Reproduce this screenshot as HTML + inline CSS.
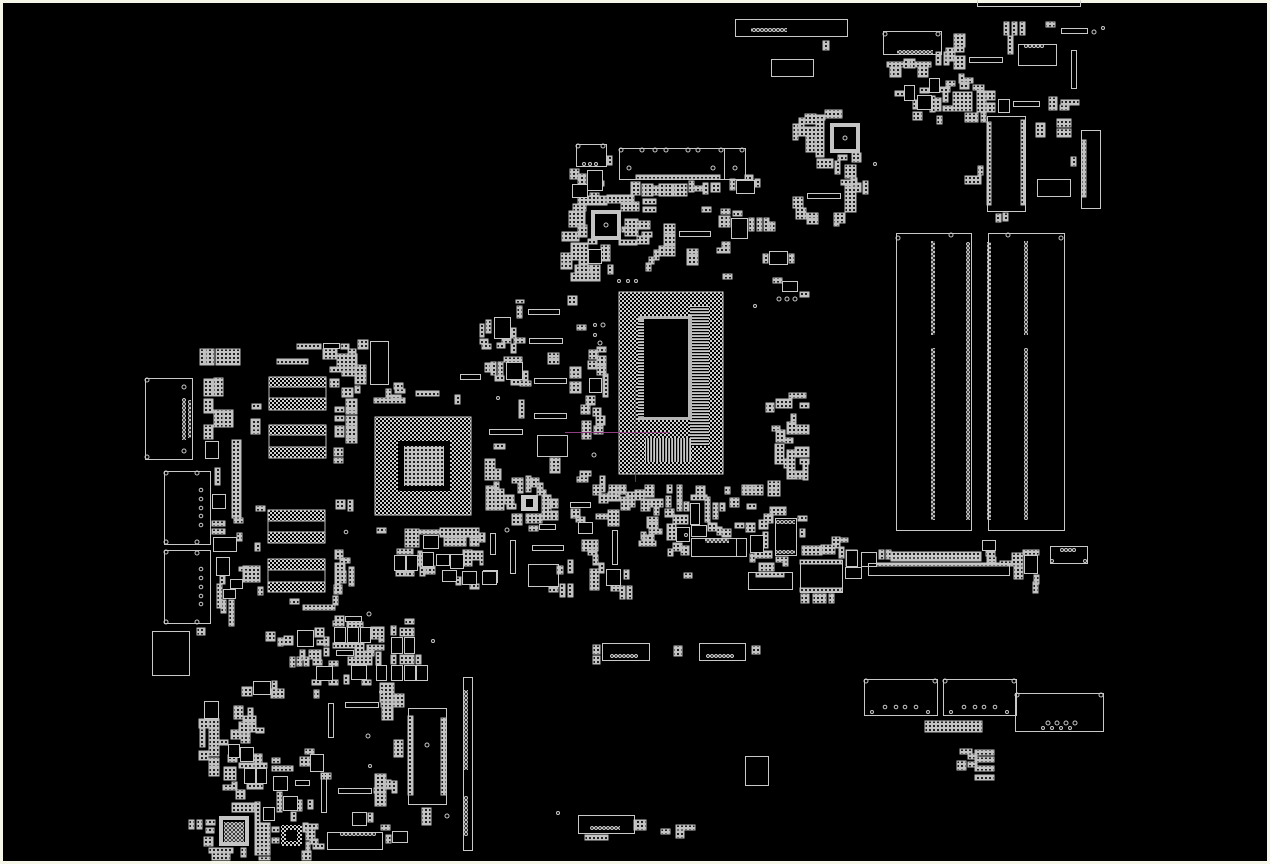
<!DOCTYPE html>
<html><head><meta charset="utf-8"><title>Boardview</title>
<style>html,body{margin:0;padding:0;background:#000}svg{display:block}</style></head>
<body>
<svg xmlns="http://www.w3.org/2000/svg" width="1270" height="864" viewBox="0 0 1270 864">
<defs>
<pattern id="c" width="4" height="4" patternUnits="userSpaceOnUse"><rect width="4" height="4" fill="#c2c2c2"/><rect x="1" y="1" width="2" height="2" fill="#222"/></pattern>
<pattern id="b" width="4" height="4" patternUnits="userSpaceOnUse"><rect width="4" height="4" fill="#d0d0d0"/><rect x="0" y="0" width="2" height="2" fill="#000"/><rect x="2" y="2" width="2" height="2" fill="#000"/></pattern>
<pattern id="h" width="3" height="3" patternUnits="userSpaceOnUse"><rect width="3" height="3" fill="#c8c8c8"/><rect y="1" width="3" height="1.2" fill="#000"/></pattern>
<pattern id="v" width="3" height="3" patternUnits="userSpaceOnUse"><rect width="3" height="3" fill="#c8c8c8"/><rect x="1" width="1.2" height="3" fill="#000"/></pattern>
<pattern id="r" width="4" height="4" patternUnits="userSpaceOnUse"><circle cx="2" cy="2" r="1.5" fill="none" stroke="#ccc" stroke-width="1"/></pattern>
</defs>
<rect width="1270" height="864" fill="#f6f6e8"/>
<rect x="3" y="3" width="1264" height="858" fill="#000"/>

<!-- big BGA -->
<rect x="619" y="292" width="104" height="182" fill="url(#b)" stroke="#ccc"/>
<rect x="690" y="306" width="19" height="140" fill="url(#h)"/>
<rect x="645" y="438" width="46" height="24" fill="url(#v)"/>
<rect x="638" y="316" width="54" height="104" fill="#b4b4b4"/>
<rect x="644" y="319" width="44" height="98" fill="#000"/>
<rect x="638" y="321" width="6" height="96" fill="url(#h)"/>
<!-- GPU BGA -->
<rect x="375" y="417" width="96" height="98" fill="url(#b)" stroke="#ccc"/>
<rect x="398" y="441" width="52" height="50" fill="#000"/>
<rect x="404" y="446" width="40" height="40" fill="url(#c)"/>
<!-- memory chips -->
<g fill="url(#b)" stroke="#ccc">
<rect x="269" y="377" width="57" height="10"/><rect x="269" y="398" width="57" height="12"/>
<rect x="269" y="425" width="57" height="10"/><rect x="269" y="447" width="57" height="11"/>
<rect x="268" y="510" width="57" height="11"/><rect x="268" y="532" width="57" height="11"/>
<rect x="268" y="559" width="57" height="11"/><rect x="268" y="582" width="57" height="10"/>
</g>
<g fill="none" stroke="#bbb"><path d="M269 387V398M326 387V398M269 435V447M326 435V447M268 521V532M325 521V532M268 570V582M325 570V582"/></g>

<!-- small parts -->
<path fill="url(#c)" stroke="#bdbdbd" stroke-width="1" d="
M200 349H205V365H200zM206 349H214V365H206zM216 349H240V365H216zM297 344H321V349H297zM341 344H349V349H341zM358 340H368V349H358zM277 359H308V364H277zM323 349H337V359H323zM337 354H357V367H337zM348 349H356V360H348zM330 367H360V372H330zM342 371H355V376H342zM355 365H366V375H355zM355 376H366V384H355zM330 379H339V387H330zM342 388H353V397H342zM355 386H360V393H355z
M204 379H213V396H204zM214 378H223V396H214zM204 399H213V413H204zM214 410H223V427H214zM224 410H233V427H224zM204 425H213V439H204zM232 440H241V518H232zM234 518H243V523H234zM252 404H261V409H252zM251 419H260V428H251zM251 429H260V434H251zM335 407H344V412H335zM335 416H344V421H335zM335 426H344V431H335zM335 432H344V437H335zM346 399H357V409H346zM346 410H357V414H346zM346 416H357V426H346zM346 427H357V437H346zM346 438H357V443H346zM334 448H343V456H334zM334 458H343V463H334zM336 500H345V509H336zM348 500H353V511H348zM256 506H265V511H256zM377 528H386V533H377z
M215 468H220V485H215zM212 521H225V526H212zM212 529H225V534H212zM237 533H242V541H237zM255 543H260V551H255zM220 575H225V584H220zM217 584H222V608H217zM221 600H226V613H221zM229 600H234V626H229zM239 567H248V571H239zM243 566H260V582H243zM258 587H263V595H258zM335 550H343V559H335zM340 558H350V563H340zM335 563H345V571H335zM335 571H340V585H335zM341 571H346V583H341zM349 567H354V586H349zM334 585H342V594H334zM290 599H299V604H290zM303 605H335V610H303zM333 596H338V605H333zM197 628H205V635H197z
M416 391H439V396H416zM374 398H405V403H374zM386 389H391V398H386zM394 383H403V389H394zM395 389H405V393H395zM391 395H401V399H391zM455 395H460V404H455zM405 529H419V547H405zM419 530H440V534H419zM440 528H479V537H440zM444 538H466V546H444zM470 538H479V546H470zM397 549H413V554H397zM396 571H405V576H396zM406 571H414V576H406zM418 551H422V566H418zM420 566H425V576H420zM426 566H435V574H426zM463 550H472V566H463zM472 551H480V560H472zM456 577H461V585H456zM470 584H479V589H470z
M266 632H275V641H266zM278 638H283V646H278zM284 636H293V645H284zM315 628H324V637H315zM317 640H325V645H317zM324 637H329V646H324zM335 616H344V621H335zM333 621H344V626H333zM347 622H363V627H347zM371 627H384V639H371zM379 632H384V642H379zM333 643H355V648H333zM355 643H364V660H355zM365 651H374V656H365zM367 645H384V650H367zM309 650H321V659H309zM300 650H305V660H300zM297 657H302V666H297zM290 657H295V667H290zM304 657H309V666H304zM324 648H329V656H324zM313 660H322V665H313zM329 661H338V666H329zM312 680H321V685H312zM329 680H338V685H329zM348 657H372V665H348zM362 680H371V685H362zM344 675H349V684H344zM376 652H381V665H376zM391 626H396V635H391zM400 628H414V636H400zM405 619H414V624H405zM391 655H396V664H391zM400 655H414V664H400zM416 655H421V664H416z
M242 687H252V696H242zM272 681H277V693H272zM271 689H284V698H271zM314 690H319V698H314zM380 683H394V702H380zM381 702H400V707H381zM394 694H404V707H394zM382 707H393V720H382zM394 740H403V757H394zM199 719H208V728H199zM209 719H219V728H209zM200 729H205V747H200zM209 729H219V747H209zM199 751H208V760H199zM209 748H219V756H209zM209 758H219V766H209zM209 767H219V776H209zM234 706H243V719H234zM248 708H253V715H248zM243 716H256V721H243zM239 722H250V734H239zM250 722H256V732H250zM256 728H264V733H256zM231 730H240V739H231zM241 734H250V743H241zM220 740H228V745H220zM228 755H237V762H228zM254 754H262V763H254zM272 758H280V763H272zM272 766H293V771H272zM239 763H254V768H239zM254 763H267V768H254zM224 767H236V780H224zM247 784H263V789H247zM223 785H232V790H223zM232 782H237V790H232zM236 790H245V799H236z
M277 792H282V812H277zM297 800H302V811H297zM308 800H313V809H308zM291 812H296V821H291zM232 803H254V812H232zM255 802H260V850H255zM260 823H270V847H260zM272 827H279V832H272zM272 838H279V843H272zM255 840H270V855H255zM303 823H308V832H303zM308 824H318V829H308zM306 829H315V840H306zM310 839H318V844H310zM313 844H324V849H313zM306 842H310V851H306zM302 851H311V860H302zM189 820H194V829H189zM197 820H202V829H197zM206 820H215V825H206zM206 828H214V833H206zM204 837H213V846H204zM209 848H233V853H209zM212 853H230V860H212zM241 848H246V857H241zM259 857H270V860H259z
M300 757H310V766H300zM305 749H314V754H305zM321 773H331V779H321zM374 788H386V793H374zM375 774H386V787H375zM385 780H391V789H385zM392 781H397V793H392zM375 793H386V806H375zM368 813H373V822H368zM381 825H390V830H381zM386 835H391V843H386zM422 808H431V825H422z
M516 300H524V303H516zM568 300H577V305H568zM517 306H522V318H517zM577 325H586V330H577zM486 320H491V333H486zM480 324H484V337H480zM511 328H516V338H511zM480 339H488V344H480zM482 344H491V349H482zM497 343H505V348H497zM502 338H511V343H502zM514 338H525V343H514zM511 344H516V353H511zM548 353H559V358H548zM548 359H559V364H548zM570 367H581V372H570zM570 373H581V378H570zM570 382H581V387H570zM570 388H581V393H570zM589 350H598V359H589zM597 347H606V352H597zM597 356H606V365H597zM588 361H596V369H588zM597 366H606V375H597zM603 374H608V397H603zM586 396H595V405H586zM581 405H590V414H581zM593 408H601V416H593zM596 416H605V425H596zM594 426H603V434H594zM582 421H591V439H582z
M504 357H522V362H504zM485 363H490V372H485zM491 362H496V375H491zM498 362H503V375H498zM495 376H504V381H495zM511 380H520V385H511zM520 381H531V386H520zM523 371H528V380H523zM519 400H524V418H519zM494 444H505V449H494zM550 458H560V467H550zM550 468H560V473H550zM485 459H495V480H485zM496 469H501V480H496zM494 482H499V490H494zM486 486H495V510H486zM495 489H504V510H495zM505 495H514V504H505zM507 504H516V509H507zM512 478H523V483H512zM518 483H523V493H518zM526 476H531V492H526zM530 478H539V487H530zM537 483H543V490H537zM537 490H546V495H537zM542 495H551V503H542zM550 499H558V508H550zM542 504H551V520H542zM551 511H558V520H551zM512 514H522V525H512zM526 514H542V523H526zM529 526H538V531H529z
M571 509H580V518H571zM576 517H585V522H576zM596 514H607V519H596zM608 510H619V526H608zM580 471H591V476H580zM577 477H588V482H577zM600 476H605V485H600zM593 485H601V495H593zM609 485H618V494H609zM599 494H608V503H599zM608 492H619V501H608zM480 533H485V542H480zM480 551H483V565H480zM557 566H563V574H557zM549 587H558V592H549zM560 584H565V597H560zM568 560H573V573H568zM568 584H573V597H568zM582 540H592V551H582zM593 540H598V551H593zM588 550H597V555H588zM593 555H598V565H593zM599 563H604V573H599zM590 569H599V590H590zM611 586H620V591H611zM620 586H625V599H620zM627 586H632V599H627zM624 570H629V579H624z
M600 476H605V492H600zM609 485H620V501H609zM621 485H626V494H621zM626 492H635V504H626zM635 490H644V500H635zM645 485H654V497H645zM621 497H630V510H621zM630 500H635V507H630zM641 499H650V511H641zM650 499H663V507H650zM654 507H659V515H654zM667 485H672V493H667zM677 485H682V501H677zM666 496H671V507H666zM677 502H682V511H677zM684 502H689V511H684zM665 509H674V517H665zM673 515H688V524H673zM667 524H676V540H667zM696 486H705V496H696zM691 495H707V500H691zM705 497H710V522H705zM713 503H718V519H713zM720 503H725V511H720zM725 487H730V494H725zM730 498H739V507H730zM708 523H717V531H708zM717 527H722V535H717zM722 529H731V537H722zM735 523H744V528H735zM746 523H755V532H746zM742 485H763V495H742zM768 481H780V496H768zM787 471H808V479H787zM747 504H756V509H747zM759 520H768V529H759zM764 514H773V523H764zM770 507H786V515H770zM763 532H768V548H763zM750 554H755V562H750zM755 551H772V558H755zM776 557H788V562H776zM783 562H788V566H783zM759 563H764V571H759zM765 563H774V571H765zM756 573H784V577H756zM801 594H809V603H801zM813 594H826V603H813zM829 594H834V603H829zM802 546H822V555H802zM821 545H835V554H821zM832 537H840V548H832zM840 538H848V542H840zM839 547H844V558H839zM798 516H807V521H798zM800 529H805V537H800zM668 549H673V556H668zM673 543H682V551H673zM681 546H689V555H681zM647 517H658V522H647zM647 523H658V528H647zM649 529H662V534H649zM641 532H646V539H641zM642 535H654V540H642zM639 541H656V546H639zM684 573H692V578H684z
M607 156H612V165H607zM570 169H579V179H570zM578 174H586V184H578zM588 181H604V186H588zM578 196H605V205H578zM590 193H599V196H590zM599 196H607V205H599zM607 195H634V203H607zM621 202H639V211H621zM631 182H640V195H631zM642 184H647V196H642zM648 184H653V196H648zM653 186H659V195H653zM659 184H664V196H659zM665 184H673V196H665zM674 184H687V196H674zM689 181H694V192H689zM694 186H702V191H694zM703 183H708V194H703zM711 183H720V192H711zM730 179H735V190H730zM745 175H753V180H745zM755 179H760V187H755zM643 199H656V204H643zM643 207H656V212H643zM702 207H711V212H702zM721 209H730V214H721zM733 211H742V216H733zM719 216H724V227H719zM725 216H730V227H725zM749 218H754V231H749zM757 218H762V231H757zM764 218H769V231H764zM770 222H775V231H770z
M569 211H585V227H569zM573 204H586V211H573zM578 225H587V237H578zM562 232H579V241H562zM588 239H597V244H588zM571 243H588V260H571zM601 245H610V261H601zM561 253H572V263H561zM561 264H572V269H561zM579 260H588V273H579zM575 265H590V273H575zM591 265H600V280H591zM571 273H600V281H571zM608 265H613V274H608zM625 219H638V236H625zM638 221H650V229H638zM622 227H629V232H622zM642 232H652V237H642zM637 236H649V244H637zM619 240H637V245H619zM664 224H675V234H664zM664 235H675V245H664zM664 246H675V256H664zM659 246H665V256H659zM654 250H659V260H654zM649 257H654V264H649zM646 263H651V271H646zM687 249H698V254H687zM687 255H698V265H687zM722 242H730V247H722zM717 248H730V253H717zM723 274H732V279H723zM763 254H768V263H763zM789 254H794V263H789zM773 278H782V283H773zM800 292H809V297H800zM568 296H577V305H568z
M805 114H816V124H805zM816 115H825V120H816zM825 110H842V118H825zM799 118H804V127H799zM793 124H798V140H793zM798 127H816V136H798zM806 136H815V152H806zM816 119H824V157H816zM817 159H833V168H817zM835 161H840V174H835zM838 155H847V160H838zM852 153H861V162H852zM845 165H856V178H845zM841 180H851V185H841zM851 178H857V188H851zM856 183H861V192H856zM863 181H868V194H863zM845 186H856V212H845zM793 197H803V208H793zM796 208H806V219H796zM807 213H818V218H807zM807 219H818V224H807zM834 213H845V223H834zM834 220H839V226H834zM823 41H829V50H823z
M1004 22H1009V35H1004zM1012 22H1017V35H1012zM1020 22H1025V35H1020zM1008 36H1013V54H1008zM1046 22H1055V27H1046zM954 34H965V47H954zM954 47H964V52H954zM946 48H955V61H946zM936 52H941V65H936zM944 52H949V65H944zM954 56H965V69H954zM887 62H904V67H887zM904 59H909V68H904zM910 59H915V68H910zM915 62H931V67H915zM890 67H895V77H890zM896 67H901V77H896zM918 67H928V77H918zM959 74H964V83H959zM965 78H973V83H965zM960 82H969V89H960zM946 81H955V86H946zM973 85H984V90H973zM920 88H929V93H920zM939 87H950V92H939zM895 91H904V96H895zM943 92H948V102H943zM913 100H918V109H913zM930 96H935V112H930zM936 98H941V111H936zM943 106H953V111H943zM953 92H972V111H953zM977 91H986V112H977zM986 91H995V100H986zM986 103H995V112H986zM1049 97H1057V110H1049zM1061 100H1079V105H1061zM1060 105H1069V110H1060zM913 112H922V120H913zM937 116H942V124H937zM965 113H978V122H965zM981 113H986V122H981zM1036 123H1045V137H1036zM1057 119H1071V127H1057zM1057 129H1071V137H1057zM1071 157H1076V166H1071zM978 166H983V175H978zM965 176H981V184H965zM996 214H1001V222H996zM1003 213H1008V221H1003z
M879 550H884V559H879zM886 550H891V559H886zM891 552H981V561H891zM986 551H995V556H986zM987 557H996V562H987zM1000 561H1011V566H1000zM846 550H857V566H846zM1012 553H1023V566H1012zM1014 566H1023V579H1014zM1023 550H1039V555H1023zM1034 575H1039V584H1034zM1033 582H1038V593H1033zM925 721H982V732H925zM960 749H972V754H960zM968 754H977V759H968zM975 750H994V755H975zM975 757H994V762H975zM957 761H966V770H957zM968 762H977V767H968zM975 766H994V771H975zM975 775H994V780H975z
M593 645H600V654H593zM593 656H600V664H593zM674 646H682V656H674zM752 646H760V654H752zM634 820H646V830H634zM585 835H608V840H585zM661 829H670V834H661zM676 825H695V830H676zM676 830H684V838H676z
M789 393H806V398H789zM766 403H774V412H766zM776 399H792V408H776zM800 403H809V408H800zM791 414H796V423H791zM787 422H796V434H787zM797 425H809V434H797zM772 426H780V431H772zM776 430H785V442H776zM785 438H793V443H785zM775 444H784V464H775zM787 450H795V478H787zM795 447H809V457H795zM800 459H809V464H800zM803 464H808V480H803zM795 472H803V477H795zM784 459H787V468H784zM746 486H755V490H746zM768 481H777V490H768z
M636 175H720V179H636zM868 563H1000V566H868zM800 560H842V564H800zM800 588H842V592H800zM1082 140H1086V197H1082zM987 122H991V205H987zM1021 120H1025V205H1021zM408 716H413V795H408zM441 718H446V795H441z"/>

<!-- black boxes with outline -->
<g fill="#000" stroke="#c8c8c8" transform="translate(.5 .5)">
<path d="M205 441H218V458H205zM212 494H225V508H212zM213 537H236V551H213zM216 557H229V575H216zM230 579H242V588H230zM223 589H235V598H223zM423 535H438V548H423zM394 555H405V570H394zM406 555H417V570H406zM422 552H433V566H422zM436 554H449V565H436zM450 554H463V568H450zM442 570H456V581H442zM462 571H476V584H462zM483 570H497V582H483zM297 630H313V646H297zM334 627H345V642H334zM347 627H358V642H347zM360 627H370V642H360zM316 666H332V680H316zM351 665H366V679H351zM376 665H386V680H376zM391 665H402V680H391zM404 665H415V680H404zM416 665H427V680H416zM391 637H402V653H391zM404 637H414V653H404zM253 681H270V694H253zM204 701H218V718H204zM228 744H239V757H228zM240 747H253V761H240zM244 768H255V783H244zM256 768H266V783H256zM273 776H287V790H273zM283 796H297V810H283zM263 807H274V820H263zM310 754H323V771H310zM352 812H366V825H352zM392 831H407V842H392z"/>
<path d="M494 317H510V338H494zM506 362H522V379H506zM589 378H601V392H589zM578 522H592V533H578zM606 569H620V585H606zM482 571H496V584H482zM676 527H689V541H676zM690 503H699V524H690zM691 525H706V536H691zM775 518H796V555H775zM750 535H763V552H750zM846 550H857V566H846zM845 567H861V578H845zM861 552H876V566H861zM587 170H602V190H587zM572 184H587V197H572zM736 180H754V193H736zM731 218H747V238H731zM588 249H601V263H588zM769 251H787V264H769zM782 281H797V291H782zM929 78H939V92H929zM904 85H914V100H904zM917 95H931V109H917zM998 99H1009V112H998zM982 540H995V550H982zM1024 555H1037V573H1024z"/>
</g>
<rect x="593" y="212" width="26" height="26" fill="#000" stroke="#c4c4c4" stroke-width="4"/>
<rect x="832" y="125" width="26" height="26" fill="#000" stroke="#c4c4c4" stroke-width="4"/>
<rect x="221" y="818" width="26" height="26" fill="#000" stroke="#c4c4c4" stroke-width="4"/>
<rect x="224" y="822" width="20" height="20" fill="url(#r)"/>
<rect x="521" y="495" width="17" height="16" fill="#c8c8c8"/>
<rect x="526" y="499" width="7" height="8" fill="#000"/>
<rect x="281" y="825" width="21" height="21" fill="url(#b)"/><rect x="286" y="830" width="11" height="11" fill="#000"/>

<!-- connector outlines -->
<g fill="none" stroke="#c8c8c8" transform="translate(.5 .5)">
<path d="M145 378H192V459H145zM164 471H210V544H164zM164 550H210V623H164zM370 341H388V384H370zM152 631H189V675H152z"/>
<path d="M735 19H847V36H735zM883 31H941V54H883zM771 59H813V76H771zM1018 44H1056V65H1018zM977 0V6H1080V0M619 148H724V179H619zM724 148H745V179H724zM576 144H606V166H576z"/>
<path d="M896 233H971V530H896zM988 233H1064V530H988zM987 116H1025V211H987zM1081 130H1100V208H1081zM1037 179H1070V196H1037z"/>
<path d="M1050 546H1087V563H1050zM864 679H937V715H864zM943 679H1016V715H943zM1015 693H1103V731H1015zM868 563H1009V575H868zM748 572H792V589H748zM800 560H842V592H800zM691 538H746V556H691zM736 538V556M537 435H567V456H537zM528 564H558V586H528z"/>
<path d="M602 643H649V660H602zM699 643H745V660H699zM745 756H768V785H745zM578 815H634V833H578zM327 832H382V849H327zM408 708H446V804H408zM463 677H472V850H463z"/>
<path d="M460 374H480V379H460zM528 309H559V314H528zM529 338H562V343H529zM534 378H566V383H534zM534 413H566V418H534zM489 429H522V434H489zM532 545H563V550H532zM490 533H495V554H490zM510 540H515V573H510zM612 530H617V564H612zM570 502H590V507H570zM539 524H555V529H539zM679 231H710V236H679zM807 193H840V198H807zM969 57H1002V62H969zM1013 101H1039V106H1013zM1061 28H1087V33H1061zM1071 50H1076V88H1071zM323 343H339V348H323zM345 616H361V621H345zM336 650H353V655H336zM345 702H378V707H345zM328 703H333V737H328zM338 788H371V793H338zM295 780H309V785H295zM321 773H326V812H321z"/>
</g>

<!-- ring columns -->
<g fill="url(#r)">
<rect x="931" y="241" width="4" height="94"/><rect x="931" y="348" width="4" height="172"/>
<rect x="1024" y="241" width="4" height="94"/><rect x="1024" y="348" width="4" height="172"/>
<rect x="966" y="242" width="4" height="278"/><rect x="987" y="242" width="4" height="278"/>
<rect x="182" y="398" width="4" height="42"/><rect x="188" y="400" width="3" height="38"/>
<rect x="464" y="690" width="4" height="80"/><rect x="464" y="796" width="4" height="40"/>
<rect x="889" y="555" width="90" height="4"/>
<rect x="751" y="28" width="36" height="4"/><rect x="897" y="50" width="36" height="4"/>
<rect x="1024" y="44" width="20" height="4"/>
<rect x="340" y="832" width="36" height="4"/>
<rect x="1060" y="548" width="16" height="4"/>
<rect x="610" y="654" width="28" height="4"/><rect x="706" y="654" width="28" height="4"/>
<rect x="590" y="826" width="30" height="4"/>
<rect x="705" y="539" width="24" height="4"/>
<rect x="775" y="520" width="20" height="4"/><rect x="775" y="550" width="20" height="4"/>
</g>
<g fill="none" stroke="#c8c8c8">
<circle cx="875" cy="164" r="1.5"/><circle cx="346" cy="532" r="1.8"/><circle cx="433" cy="641" r="1.5"/><circle cx="558" cy="813" r="1.5"/><circle cx="755" cy="306" r="1.5"/><circle cx="1103" cy="28" r="1.5"/><circle cx="1094" cy="32" r="2"/><circle cx="619" cy="281" r="1.5"/><circle cx="628" cy="281" r="1.5"/><circle cx="636" cy="281" r="1.5"/><circle cx="779" cy="299" r="2"/><circle cx="787" cy="299" r="2"/><circle cx="795" cy="299" r="2"/><circle cx="595" cy="325" r="1.5"/><circle cx="603" cy="325" r="2"/><circle cx="595" cy="335" r="1.5"/><circle cx="600" cy="343" r="2"/><circle cx="498" cy="398" r="1.5"/><circle cx="594" cy="455" r="2"/><circle cx="507" cy="530" r="2"/><circle cx="686" cy="535" r="1.5"/><circle cx="369" cy="614" r="2"/><circle cx="381" cy="692" r="1.5"/><circle cx="368" cy="736" r="2"/><circle cx="447" cy="816" r="2"/><circle cx="427" cy="745" r="2"/><circle cx="370" cy="766" r="1.5"/>
<circle cx="147" cy="380" r="2"/><circle cx="147" cy="457" r="2"/><circle cx="184" cy="387" r="2"/><circle cx="184" cy="451" r="2"/>
<circle cx="166" cy="473" r="2"/><circle cx="197" cy="473" r="2"/><circle cx="166" cy="542" r="2"/><circle cx="197" cy="542" r="2"/><circle cx="166" cy="552" r="2"/><circle cx="197" cy="553" r="2"/><circle cx="166" cy="622" r="2"/><circle cx="197" cy="622" r="2"/>
<circle cx="201" cy="490" r="1.8"/><circle cx="201" cy="499" r="1.8"/><circle cx="201" cy="508" r="1.8"/><circle cx="201" cy="516" r="1.8"/><circle cx="201" cy="525" r="1.8"/><circle cx="201" cy="569" r="1.8"/><circle cx="201" cy="578" r="1.8"/><circle cx="201" cy="587" r="1.8"/><circle cx="201" cy="596" r="1.8"/><circle cx="201" cy="604" r="1.8"/>
<circle cx="898" cy="238" r="2"/><circle cx="951" cy="235" r="2"/><circle cx="1008" cy="235" r="2"/><circle cx="1061" cy="238" r="2"/>
<circle cx="885" cy="34" r="2"/><circle cx="938" cy="34" r="2"/>
<circle cx="621" cy="150" r="2"/><circle cx="642" cy="150" r="2"/><circle cx="655" cy="150" r="2"/><circle cx="666" cy="150" r="2"/><circle cx="688" cy="150" r="2"/><circle cx="698" cy="150" r="2"/><circle cx="721" cy="150" r="2"/><circle cx="742" cy="150" r="2"/><circle cx="629" cy="168" r="2"/><circle cx="713" cy="168" r="2"/><circle cx="735" cy="168" r="2"/>
<circle cx="578" cy="146" r="2"/><circle cx="603" cy="146" r="2"/><circle cx="584" cy="164" r="1.5"/><circle cx="590" cy="164" r="1.5"/><circle cx="596" cy="164" r="1.5"/>
<circle cx="866" cy="681" r="2"/><circle cx="935" cy="681" r="2"/><circle cx="885" cy="707" r="1.8"/><circle cx="896" cy="707" r="1.8"/><circle cx="905" cy="707" r="1.8"/><circle cx="916" cy="707" r="1.8"/><circle cx="872" cy="712" r="1.5"/><circle cx="928" cy="712" r="1.5"/>
<circle cx="945" cy="681" r="2"/><circle cx="1014" cy="681" r="2"/><circle cx="964" cy="707" r="1.8"/><circle cx="975" cy="707" r="1.8"/><circle cx="984" cy="707" r="1.8"/><circle cx="995" cy="707" r="1.8"/><circle cx="951" cy="712" r="1.5"/><circle cx="1007" cy="712" r="1.5"/>
<circle cx="1017" cy="695" r="2"/><circle cx="1101" cy="695" r="2"/><circle cx="1048" cy="723" r="2"/><circle cx="1057" cy="723" r="2"/><circle cx="1066" cy="723" r="2"/><circle cx="1075" cy="723" r="2"/><circle cx="1043" cy="728" r="1.5"/><circle cx="1052" cy="728" r="1.5"/><circle cx="1061" cy="728" r="1.5"/><circle cx="1070" cy="728" r="1.5"/>
<circle cx="1052" cy="561" r="1.5"/><circle cx="1085" cy="561" r="1.5"/>
<circle cx="845" cy="138" r="2"/><circle cx="606" cy="225" r="2"/>
</g>
<!-- magenta traces -->
<path d="M565 432.5H670" stroke="#8f3f80" stroke-width="1" fill="none"/>
<path d="M635.5 385V482" stroke="#8f3f80" stroke-width="1" fill="none" opacity=".75"/>
</svg>
</body></html>
